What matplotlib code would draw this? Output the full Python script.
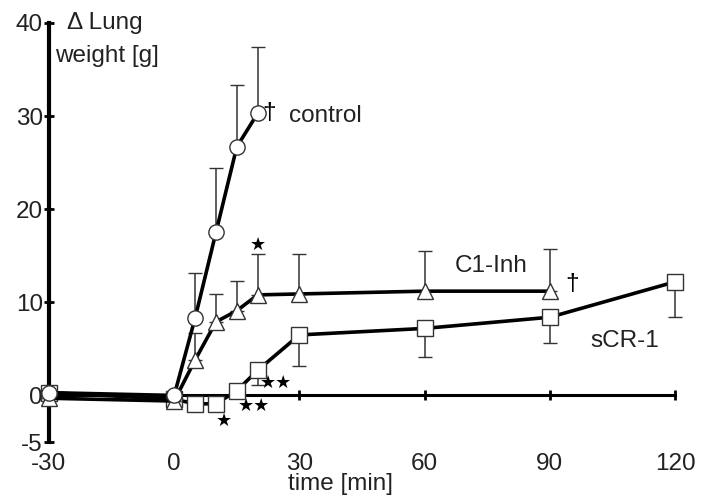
import matplotlib
matplotlib.use("Agg")
import matplotlib.pyplot as plt

plt.rcParams['font.family'] = ['Liberation Sans', 'DejaVu Sans']
plt.rcParams['axes.unicode_minus'] = False

# Data
t_ctrl = [-30, 0, 5, 10, 15, 20]
ctrl = [0.3, 0.0, 8.3, 17.5, 26.7, 30.3]
ctrl_err_up = [0, 0, 4.9, 6.9, 6.6, 7.1]

t_c1 = [-30, 0, 5, 10, 15, 20, 30, 60, 90]
c1 = [-0.3, -0.6, 3.8, 7.9, 9.1, 10.8, 10.9, 11.2, 11.2]
c1_err_up = [0, 0, 2.9, 3.0, 3.2, 4.4, 4.3, 4.3, 4.5]

t_scr = [-30, 0, 5, 10, 15, 20, 30, 60, 90, 120]
scr = [0.3, -0.4, -0.9, -0.9, 0.5, 2.7, 6.5, 7.2, 8.4, 12.2]
scr_err_lo = [0, 0, 0, 0, 0, 1.6, 3.3, 3.1, 2.8, 3.8]

xticks = [-30, 0, 30, 60, 90, 120]
yticks = [-5, 0, 10, 20, 30, 40]

fig = plt.figure(figsize=(7.05, 4.98), dpi=100)
ax = fig.add_axes([49/705, 1-442/498, (675-49)/705, (442-23)/498])
ax.set_xlim(-30, 120)
ax.set_ylim(-5, 40)

lw = 2.6
ekw = dict(elinewidth=1.1, capsize=5, capthick=1.1, ecolor='#333333')

ax.errorbar(t_scr, scr, yerr=[scr_err_lo, [0]*len(t_scr)], fmt='-s', color='black',
            lw=lw, ms=11, mfc='white', mec='#333333', mew=1.0, clip_on=False, zorder=3, **ekw)
ax.errorbar(t_c1, c1, yerr=[[0]*len(t_c1), c1_err_up], fmt='-^', color='black',
            lw=lw, ms=12, mfc='white', mec='#333333', mew=1.0, clip_on=False, zorder=4, **ekw)
ax.errorbar(t_ctrl, ctrl, yerr=[[0]*len(t_ctrl), ctrl_err_up], fmt='-o', color='black',
            lw=lw, ms=11, mfc='white', mec='#333333', mew=1.0, clip_on=False, zorder=5, **ekw)

for s in ['top', 'right']:
    ax.spines[s].set_visible(False)
ax.spines['bottom'].set_position(('data', 0))
ax.spines['left'].set_linewidth(3)
ax.spines['bottom'].set_linewidth(2.2)
ax.set_xticks(xticks)
ax.set_yticks(yticks)
ax.tick_params(axis='x', direction='inout', length=7, width=2, pad=38, labelsize=17.5, colors='black')
ax.tick_params(axis='y', direction='inout', length=7, width=2, pad=1, labelsize=17.5)
for lab in ax.get_xticklabels() + ax.get_yticklabels():
    lab.set_color('#222222')

fs = 17.5
ax.text(21, 30.3, '†', fontsize=fs, ha='left', va='center')
ax.text(27.5, 30.0, 'control', fontsize=fs, ha='left', va='center', color='#222222')
ax.text(76, 13.9, 'C1-Inh', fontsize=fs, ha='center', va='center', color='#222222')
ax.text(93.8, 12.0, '†', fontsize=fs, ha='left', va='center')
ax.text(108, 5.9, 'sCR-1', fontsize=fs, ha='center', va='center', color='#222222')
ax.text(-25.8, 40.0, 'Δ Lung', fontsize=fs, ha='left', va='center', color='#222222')
ax.text(-28.6, 36.5, 'weight [g]', fontsize=fs, ha='left', va='center', color='#222222')

sk = dict(fontsize=13, ha='center', va='center', family=['DejaVu Sans'])
ax.text(11.8, -2.7, '★', **sk)
ax.text(19.0, -1.1, '★★', **sk)
ax.text(24.3, 1.3, '★★', **sk)
ax.text(20.0, 16.2, '★', **sk)

fig.text(340/705, 1-484/498, 'time [min]', fontsize=fs, ha='center', va='center', color='#222222')

fig.savefig('out.png', dpi=100)
